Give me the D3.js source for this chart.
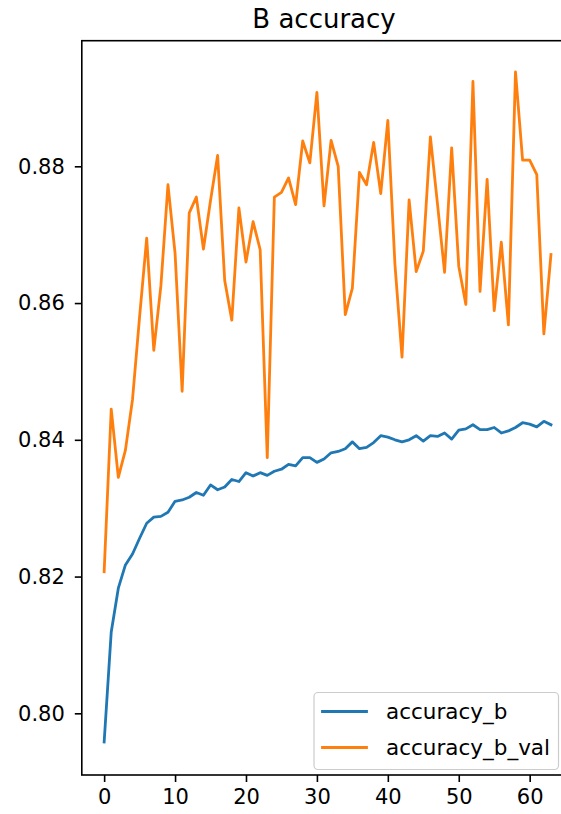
<!DOCTYPE html>
<html>
<head>
<meta charset="utf-8">
<script src="https://cdn.jsdelivr.net/npm/d3@7"></script>
<style>
  html, body { margin: 0; padding: 0; background: #ffffff; }
  svg { display: block; font-family: "DejaVu Sans", sans-serif; }
</style>
</head>
<body>
<svg id="chart" width="561" height="814"></svg>
<script>
const title = "B accuracy";
const seriesNames = ["accuracy_b", "accuracy_b_val"];
const seriesColors = ["#1f77b4", "#ff7f0e"];
const epochs = d3.range(64);
const accuracyB = [
  0.7958, 0.8119, 0.8183, 0.8217, 0.8233, 0.8256, 0.8278, 0.8287, 0.8288, 0.8294,
  0.8310, 0.8312, 0.8316, 0.8323, 0.8319, 0.8334, 0.8327, 0.8331, 0.8342, 0.8339,
  0.8352, 0.8347, 0.8352, 0.8348, 0.8354, 0.8357, 0.8364, 0.8362, 0.8374, 0.8374,
  0.8367, 0.8372, 0.8381, 0.8383, 0.8387, 0.8397, 0.8387, 0.8389, 0.8396, 0.8406,
  0.8404, 0.8400, 0.8397, 0.8400, 0.8406, 0.8398, 0.8406, 0.8405, 0.8410, 0.8401,
  0.8414, 0.8416, 0.8422, 0.8415, 0.8415, 0.8418, 0.8410, 0.8413, 0.8418, 0.8425,
  0.8423, 0.8419, 0.8427, 0.8422
];
const accuracyBVal = [
  0.8207, 0.8445, 0.8345, 0.8385, 0.8459, 0.8580, 0.8695, 0.8531, 0.8625, 0.8773,
  0.8673, 0.8471, 0.8732, 0.8755, 0.8679, 0.8750, 0.8816, 0.8633, 0.8575, 0.8739,
  0.8660, 0.8719, 0.8678, 0.8374, 0.8755, 0.8762, 0.8783, 0.8744, 0.8837, 0.8805,
  0.8908, 0.8742, 0.8838, 0.8800, 0.8583, 0.8622, 0.8791, 0.8773, 0.8835, 0.8760,
  0.8867, 0.8657, 0.8521, 0.8751, 0.8646, 0.8676, 0.8843, 0.8745, 0.8645, 0.8827,
  0.8654, 0.8598, 0.8924, 0.8617, 0.8781, 0.8589, 0.8689, 0.8568, 0.8938, 0.8809,
  0.8809, 0.8788, 0.8555, 0.8671
];
const xTicks = [0, 10, 20, 30, 40, 50, 60];
const yTicks = [0.80, 0.82, 0.84, 0.86, 0.88];

const svg = d3.select("#chart");
const plotLeft = 81.8, plotRight = 573.3, plotTop = 40.7, plotBottom = 775;
const fontSize = 21;

const x = d3.scaleLinear().domain([-3.15, 66.15]).range([plotLeft, plotRight]);
const y = d3.scaleLinear().domain([0.79098, 0.89837]).range([plotBottom, plotTop]);

svg.append("rect").attr("width", 561).attr("height", 814).attr("fill", "#fff");

// lines
const series = [accuracyB, accuracyBVal];
const line = d3.line().x((d, i) => x(epochs[i])).y(d => y(d));
series.forEach((s, k) => {
  svg.append("path")
    .datum(s)
    .attr("d", line)
    .attr("fill", "none")
    .attr("stroke", seriesColors[k])
    .attr("stroke-width", 2.8)
    .attr("stroke-linejoin", "round")
    .attr("stroke-linecap", "square");
});

// axes
const xAxis = d3.axisBottom(x).tickValues(xTicks).tickFormat(d3.format("d")).tickSize(7).tickPadding(7);
const yAxis = d3.axisLeft(y).tickValues(yTicks).tickFormat(d3.format(".2f")).tickSize(7).tickPadding(10);

const gx = svg.append("g").attr("transform", `translate(0,${plotBottom})`).call(xAxis);
const gy = svg.append("g").attr("transform", `translate(${plotLeft},0)`).call(yAxis);
[gx, gy].forEach(g => {
  g.select(".domain").remove();
  g.selectAll(".tick line").attr("stroke", "#000").attr("stroke-width", 1.6);
  g.selectAll(".tick text").attr("fill", "#000").attr("font-size", fontSize)
    .attr("font-family", "DejaVu Sans, sans-serif");
});

// spines
svg.append("rect")
  .attr("x", plotLeft).attr("y", plotTop)
  .attr("width", plotRight - plotLeft).attr("height", plotBottom - plotTop)
  .attr("fill", "none").attr("stroke", "#000").attr("stroke-width", 1.6);

// title
svg.append("text")
  .attr("x", 324).attr("y", 28)
  .attr("text-anchor", "middle")
  .attr("font-size", 26)
  .attr("fill", "#000")
  .text(title);

// legend
const lg = svg.append("g");
lg.append("rect")
  .attr("x", 314).attr("y", 692.5).attr("width", 244.5).attr("height", 77)
  .attr("rx", 4).attr("ry", 4)
  .attr("fill", "#fff").attr("fill-opacity", 0.8)
  .attr("stroke", "#cccccc").attr("stroke-width", 1.2);
seriesNames.forEach((name, k) => {
  const cy = 711.5 + k * 36;
  lg.append("line")
    .attr("x1", 322.5).attr("x2", 366.5).attr("y1", cy).attr("y2", cy)
    .attr("stroke", seriesColors[k]).attr("stroke-width", 2.8)
    .attr("stroke-linecap", "square");
  lg.append("text")
    .attr("x", 386).attr("y", cy + 7.3)
    .attr("font-size", 21.5).attr("fill", "#000")
    .text(name);
});
</script>
</body>
</html>
